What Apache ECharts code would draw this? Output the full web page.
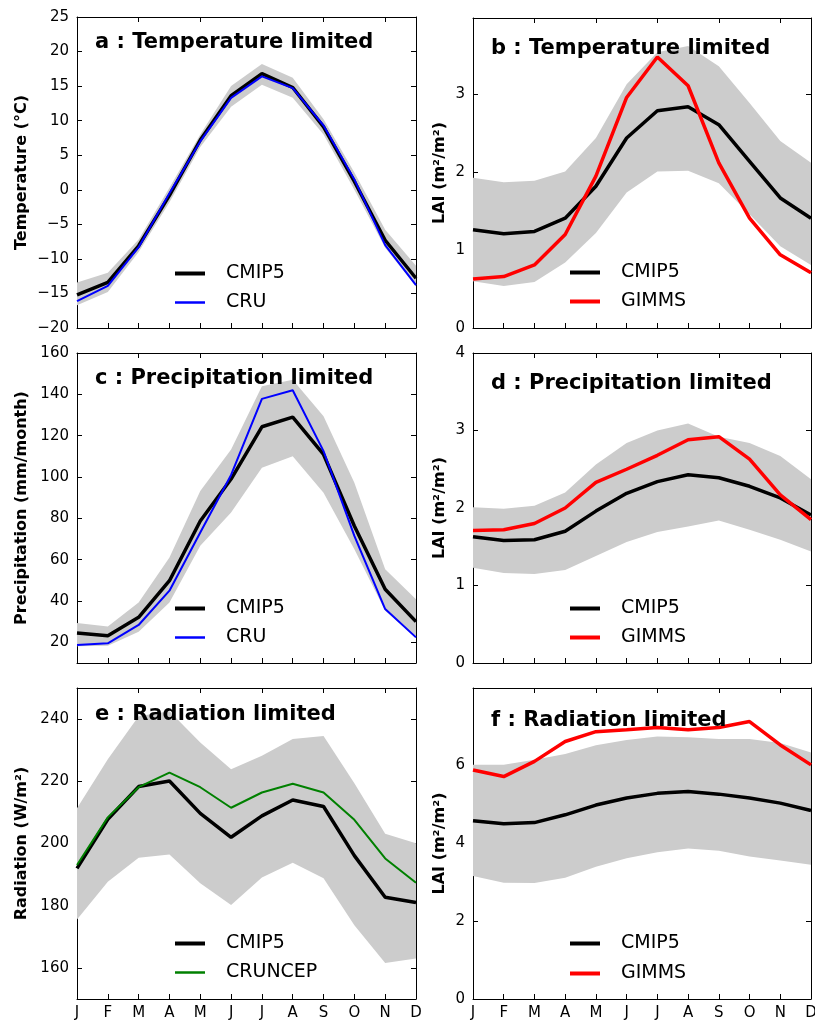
<!DOCTYPE html>
<html lang="en">
<head>
<meta charset="UTF-8">
<title>Seasonal cycles</title>
<script src="https://cdn.jsdelivr.net/npm/echarts@6/dist/echarts.min.js"></script>
<style>html,body{margin:0;padding:0;background:#fff;} #main{width:815px;height:1021px;}</style>
</head>
<body>
<div id="main"></div>
<script>
// months + x tick labels
var months = ['Jan','Feb','Mar','Apr','May','Jun','Jul','Aug','Sep','Oct','Nov','Dec'];
var monthLabels = ['J','F','M','A','M','J','J','A','S','O','N','D'];

// y tick values for each panel
var tempTicks = [-20,-15,-10,-5,0,5,10,15,20,25];
var laiTTicks = [0,1,2,3];
var precTicks = [20,40,60,80,100,120,140,160];
var laiPTicks = [0,1,2,3,4];
var radTicks  = [160,180,200,220,240];
var laiRTicks = [0,2,4,6];

// a : temperature limited, temperature
var tempCmip = [-15.2,-13.4,-8.1,-0.8,7.2,13.6,16.8,14.8,9.1,1.2,-7.3,-12.8];
var tempCru  = [-16.1,-13.9,-8.3,-0.5,7.0,13.3,16.4,14.7,9.3,1.5,-8.0,-13.8];
var tempLo   = [-16.7,-14.8,-9.0,-1.8,6.2,12.0,15.2,13.3,8.0,0.0,-8.4,-14.0];
var tempHi   = [-13.4,-12.0,-7.2,0.3,8.0,15.0,18.2,16.2,10.2,2.5,-5.8,-11.0];

// b : temperature limited, LAI
var laiTCmip  = [1.26,1.21,1.24,1.41,1.82,2.44,2.79,2.84,2.61,2.14,1.67,1.41];
var laiTGimms = [0.63,0.66,0.81,1.20,1.95,2.96,3.48,3.11,2.12,1.41,0.94,0.71];
var laiTLo    = [0.60,0.54,0.59,0.84,1.22,1.74,2.01,2.02,1.86,1.46,1.05,0.81];
var laiTHi    = [1.93,1.87,1.89,2.01,2.44,3.13,3.54,3.62,3.36,2.89,2.40,2.12];

// c : precipitation limited, precipitation
var precCmip = [24.5,23.2,32.1,49.8,78.7,99.0,124.3,129.0,110.9,76.3,45.7,30.0];
var precCru  = [18.7,19.5,28.4,45.0,73.1,101.0,137.8,142.0,112.5,71.5,36.1,22.4];
var precLo   = [18.1,18.4,25.1,39.3,66.7,82.8,104.5,110.1,92.4,65.1,35.3,22.4];
var precHi   = [29.3,27.7,39.3,61.0,93.2,113.3,143.9,147.1,129.4,97.2,55.4,40.9];

// d : precipitation limited, LAI
var laiPCmip  = [1.63,1.58,1.59,1.70,1.96,2.19,2.34,2.43,2.39,2.28,2.13,1.91];
var laiPGimms = [1.71,1.72,1.80,2.00,2.33,2.50,2.68,2.88,2.92,2.63,2.17,1.85];
var laiPLo    = [1.23,1.16,1.15,1.20,1.38,1.56,1.69,1.76,1.84,1.72,1.59,1.44];
var laiPHi    = [2.01,1.99,2.03,2.20,2.56,2.84,3.00,3.09,2.92,2.84,2.67,2.37];

// e : radiation limited, radiation
var radCmip    = [192.0,207.8,218.3,220.1,209.7,202.0,208.9,214.0,211.9,196.1,182.7,181.0];
var radCruncep = [193.1,208.4,218.1,222.8,218.1,211.5,216.4,219.2,216.4,207.6,195.2,187.4];
var radLo      = [175.6,187.7,195.4,196.5,187.2,180.2,189.1,193.8,188.8,173.7,161.6,163.0];
var radHi      = [211.3,227.1,240.9,242.5,232.5,223.9,228.2,233.6,234.6,219.4,203.1,200.1];

// f : radiation limited, LAI
var laiRCmip  = [4.57,4.49,4.52,4.72,4.97,5.15,5.27,5.32,5.25,5.15,5.02,4.83];
var laiRGimms = [5.87,5.70,6.09,6.60,6.85,6.90,6.96,6.90,6.96,7.11,6.51,6.00];
var laiRLo    = [3.15,2.98,2.97,3.11,3.39,3.61,3.76,3.86,3.80,3.65,3.55,3.44];
var laiRHi    = [6.00,6.00,6.13,6.28,6.50,6.64,6.73,6.71,6.66,6.66,6.56,6.32];

var FONT = 'DejaVu Sans';

var panels = [
  {left:77,  top:17,  w:339, h:311, min:-20, max:25,   ticks:tempTicks, yname:'Temperature (°C)',        gap:47,
   title:'a : Temperature limited',     tl:95,  tt:32,  obsName:'CRU',     obsColor:'#0000ff', obsW:2,
   mean:tempCmip, obs:tempCru, lo:tempLo, hi:tempHi, lgLeft:175, lgTop:[264,293], xlab:false},
  {left:473, top:18,  w:338, h:310, min:0,   max:3.98, ticks:laiTTicks, yname:'LAI (m²/m²)',             gap:25,
   title:'b : Temperature limited',     tl:491, tt:38,  obsName:'GIMMS',   obsColor:'#ff0000', obsW:3.5,
   mean:laiTCmip, obs:laiTGimms, lo:laiTLo, hi:laiTHi, lgLeft:570, lgTop:[263,292], xlab:false},
  {left:77,  top:353, w:339, h:310, min:10,  max:160,  ticks:precTicks, yname:'Precipitation (mm/month)', gap:47,
   title:'c : Precipitation limited',   tl:95,  tt:368, obsName:'CRU',     obsColor:'#0000ff', obsW:2,
   mean:precCmip, obs:precCru, lo:precLo, hi:precHi, lgLeft:175, lgTop:[599,628], xlab:false},
  {left:473, top:353, w:338, h:310, min:0,   max:4,    ticks:laiPTicks, yname:'LAI (m²/m²)',             gap:25,
   title:'d : Precipitation limited',   tl:491, tt:373, obsName:'GIMMS',   obsColor:'#ff0000', obsW:3.5,
   mean:laiPCmip, obs:laiPGimms, lo:laiPLo, hi:laiPHi, lgLeft:570, lgTop:[599,628], xlab:false},
  {left:77,  top:688, w:339, h:311, min:150, max:250,  ticks:radTicks,  yname:'Radiation (W/m²)',        gap:47,
   title:'e : Radiation limited',       tl:95,  tt:704, obsName:'CRUNCEP', obsColor:'#008000', obsW:2,
   mean:radCmip, obs:radCruncep, lo:radLo, hi:radHi, lgLeft:175, lgTop:[934,963], xlab:true},
  {left:473, top:688, w:338, h:311, min:0,   max:7.97, ticks:laiRTicks, yname:'LAI (m²/m²)',             gap:25,
   title:'f : Radiation limited',       tl:491, tt:710, obsName:'GIMMS',   obsColor:'#ff0000', obsW:3.5,
   mean:laiRCmip, obs:laiRGimms, lo:laiRLo, hi:laiRHi, lgLeft:570, lgTop:[934,964], xlab:true}
];

function fmt(v) {
  return v < 0 ? '\u2212' + (-v) : String(v);
}

var option = {
  animation: false,
  backgroundColor: '#fff',
  textStyle: { fontFamily: FONT },
  title: [], legend: [], grid: [], xAxis: [], yAxis: [], series: []
};

panels.forEach(function (p, i) {
  option.grid.push({ left: p.left, top: p.top, width: p.w, height: p.h,
    containLabel: false, outerBoundsMode: 'none' });
  var axLine = { show: true, onZero: false, lineStyle: { color: '#000', width: 1 } };
  var tick = { show: true, inside: true, length: 5, lineStyle: { color: '#000' } };
  var ytick = { show: true, inside: true, length: 5, lineStyle: { color: '#000' }, customValues: p.ticks };
  // bottom + top x axes
  option.xAxis.push({
    type: 'category', gridIndex: i, data: months, boundaryGap: false, position: 'bottom',
    axisLine: axLine, axisTick: tick, splitLine: { show: false },
    axisLabel: { show: p.xlab, fontSize: 15, color: '#000', margin: 7, fontFamily: FONT,
      formatter: function (v, idx) { return monthLabels[idx]; } }
  });
  option.xAxis.push({
    type: 'category', gridIndex: i, data: months, boundaryGap: false, position: 'top',
    axisLine: axLine, axisTick: tick, axisLabel: { show: false }, splitLine: { show: false }
  });
  // left + right y axes
  option.yAxis.push({
    type: 'value', gridIndex: i, min: p.min, max: p.max, position: 'left',
    name: p.yname, nameLocation: 'middle', nameGap: p.gap,
    nameTextStyle: { fontSize: 16, fontWeight: 'bold', color: '#000', fontFamily: FONT },
    axisLine: axLine, axisTick: ytick, splitLine: { show: false },
    axisLabel: { fontSize: 15, color: '#000', margin: 8, fontFamily: FONT, formatter: fmt,
      customValues: p.ticks }
  });
  option.yAxis.push({
    type: 'value', gridIndex: i, min: p.min, max: p.max, position: 'right',
    axisLine: axLine, axisTick: ytick, splitLine: { show: false }, axisLabel: { show: false }
  });
  var xi = i * 2, yi = i * 2;
  var diff = p.hi.map(function (v, k) { return v - p.lo[k]; });
  option.series.push({
    name: 'range' + i, type: 'line', xAxisIndex: xi, yAxisIndex: yi, data: p.lo,
    stack: 'band' + i, stackStrategy: 'all', symbol: 'none', silent: true,
    lineStyle: { opacity: 0 }, z: 1
  });
  option.series.push({
    name: 'range' + i, type: 'line', xAxisIndex: xi, yAxisIndex: yi, data: diff,
    stack: 'band' + i, stackStrategy: 'all', symbol: 'none', silent: true,
    lineStyle: { opacity: 0 }, areaStyle: { color: '#cccccc', opacity: 1 }, z: 1
  });
  option.series.push({
    name: 'CMIP5', type: 'line', xAxisIndex: xi, yAxisIndex: yi, data: p.mean,
    symbol: 'none', color: '#000', lineStyle: { color: '#000', width: 3.5 }, z: 3
  });
  option.series.push({
    name: p.obsName, type: 'line', xAxisIndex: xi, yAxisIndex: yi, data: p.obs,
    symbol: 'none', color: p.obsColor, lineStyle: { color: p.obsColor, width: p.obsW }, z: 4
  });

  option.title.push({
    text: p.title, left: p.tl, top: p.tt, padding: 0,
    textStyle: { fontSize: 21, fontWeight: 'bold', color: '#000', fontFamily: FONT }
  });
  [['CMIP5', 4, '#000'], [p.obsName, p.obsW === 2 ? 2.5 : 4, p.obsColor]].forEach(function (it, k) {
    option.legend.push({
      data: [it[0]], left: p.lgLeft, top: p.lgTop[k], orient: 'vertical', padding: 0,
      icon: 'rect', itemWidth: 30, itemHeight: it[1], selectedMode: false,
      itemStyle: { color: it[2] },
      textStyle: { fontSize: 19, color: '#000', fontFamily: FONT, padding: [0, 0, 0, 16] }
    });
  });
});

var myChart = echarts.init(document.getElementById('main'));
myChart.setOption(option);
</script>
</body>
</html>
